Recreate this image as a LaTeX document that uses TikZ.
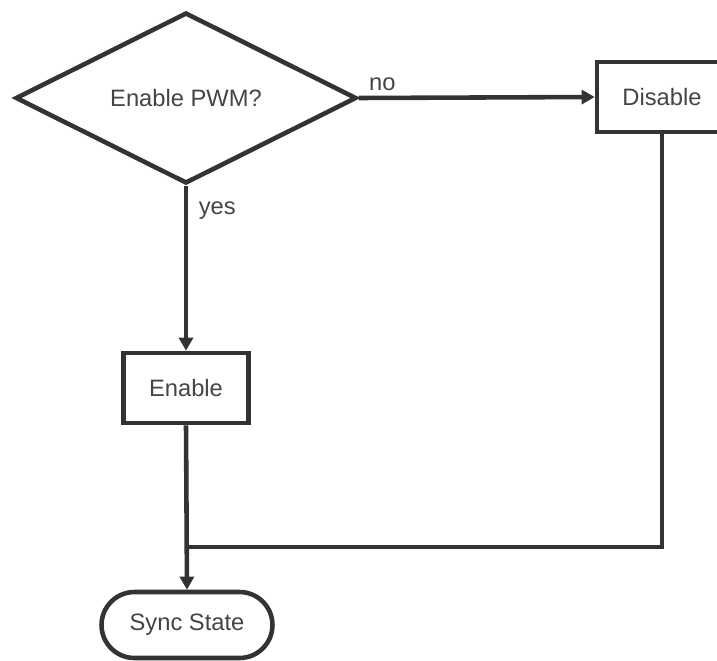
\documentclass[tikz,border=0pt]{standalone}
\usepackage{fontspec}
\setmainfont{Liberation Sans}
\usetikzlibrary{shapes.geometric, arrows.meta, positioning}
\definecolor{flowgray}{HTML}{333333}
\definecolor{textgray}{HTML}{444444}

\begin{document}
\begin{tikzpicture}[x=0.02cm, y=-0.02cm,
  font=\fontsize{13.5}{16}\selectfont, text=textgray,
  box/.style={draw=flowgray, line width=2.6pt, rectangle, minimum height=1.4cm, inner sep=0pt},
  decision/.style={draw=flowgray, line width=2.6pt, diamond, aspect=2, inner sep=0pt,
    minimum width=6.82cm, minimum height=3.42cm},
  terminal/.style={draw=flowgray, line width=2.6pt, rectangle, rounded corners=0.66cm,
    minimum width=3.42cm, minimum height=1.32cm},
  flow/.style={draw=flowgray, line width=2.6pt},
  arr/.style={flow, -{Triangle[length=7.5pt, width=8pt]}}]
\useasboundingbox (0,0) rectangle (717,660);

% nodes
\node[decision] (pwm) at (186,98) {Enable PWM?};
\node[box, minimum width=2.6cm] (disable) at (662,97) {Disable};
\node[box, minimum width=2.5cm] (enable) at (186,388) {Enable};
\node[terminal] (sync) at (187,625) {Sync State};
\coordinate (merge) at (186,547);

% connectors
\draw[arr] (pwm.east) -- node[pos=0.1, above, inner sep=3pt] {no} (disable.west);
\draw[arr] (pwm.south) -- node[pos=0.15, right, inner sep=6pt] {yes} (enable.north);
\draw[arr] (enable.south) -- (sync.north);
\draw[flow] (disable.south) |- (merge);
\end{tikzpicture}
\end{document}
